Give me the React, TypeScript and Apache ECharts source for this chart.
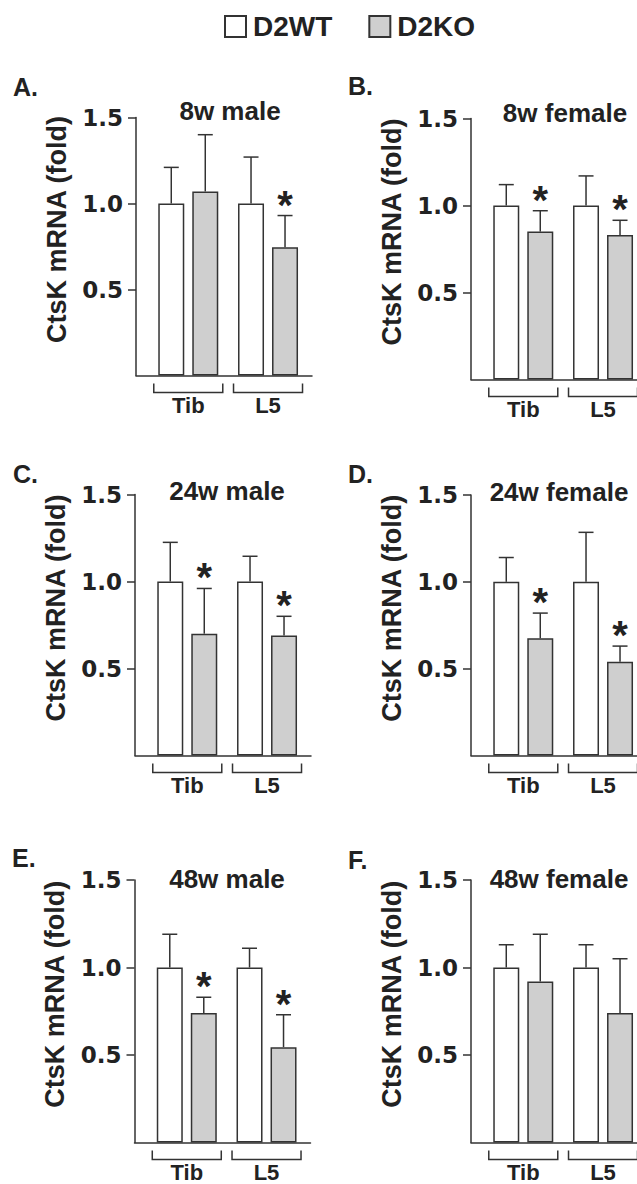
import React, { useEffect, useRef } from "react";
import * as echarts from "echarts";

// ---------- data ----------
const CATEGORIES = ["Tib", "L5"];
const SERIES_NAMES = ["D2WT", "D2KO"];
const Y_TICKS = [0.5, 1.0, 1.5];
const PANEL_LETTERS = ["A.", "B.", "C.", "D.", "E.", "F."];
const PANEL_TITLES = ["8w male", "8w female", "24w male", "24w female", "48w male", "48w female"];
const Y_NAME = "CtsK mRNA (fold)";

// A. 8w male
const wtA = [1.0, 1.0];
const wtErrA = [0.21, 0.27];
const koA = [1.07, 0.745];
const koErrA = [0.33, 0.185];
const sigA = [false, true];
// B. 8w female
const wtB = [1.0, 1.0];
const wtErrB = [0.12, 0.17];
const koB = [0.85, 0.83];
const koErrB = [0.12, 0.085];
const sigB = [true, true];
// C. 24w male
const wtC = [1.0, 1.0];
const wtErrC = [0.225, 0.145];
const koC = [0.7, 0.69];
const koErrC = [0.26, 0.11];
const sigC = [true, true];
// D. 24w female
const wtD = [1.0, 1.0];
const wtErrD = [0.14, 0.285];
const koD = [0.675, 0.54];
const koErrD = [0.145, 0.09];
const sigD = [true, true];
// E. 48w male
const wtE = [1.0, 1.0];
const wtErrE = [0.19, 0.11];
const koE = [0.74, 0.545];
const koErrE = [0.09, 0.185];
const sigE = [true, true];
// F. 48w female
const wtF = [1.0, 1.0];
const wtErrF = [0.13, 0.13];
const koF = [0.92, 0.74];
const koErrF = [0.27, 0.31];
const sigF = [false, false];

const PANELS = [
  { wt: wtA, wtErr: wtErrA, ko: koA, koErr: koErrA, sig: sigA },
  { wt: wtB, wtErr: wtErrB, ko: koB, koErr: koErrB, sig: sigB },
  { wt: wtC, wtErr: wtErrC, ko: koC, koErr: koErrC, sig: sigC },
  { wt: wtD, wtErr: wtErrD, ko: koD, koErr: koErrD, sig: sigD },
  { wt: wtE, wtErr: wtErrE, ko: koE, koErr: koErrE, sig: sigE },
  { wt: wtF, wtErr: wtErrF, ko: koF, koErr: koErrF, sig: sigF },
];

// ---------- layout / style ----------
const LAYOUT = [
  { axisX: 136, top: 117.5, bottom: 375.5, letter: [13, 87], title: [230, 111] },
  { axisX: 471, top: 118.5, bottom: 379.5, letter: [348, 86], title: [565, 113] },
  { axisX: 135, top: 494.5, bottom: 755.5, letter: [13, 474], title: [227, 491] },
  { axisX: 471, top: 495, bottom: 755.5, letter: [348, 474], title: [559, 492] },
  { axisX: 134.5, top: 880, bottom: 1142.5, letter: [12, 858], title: [227, 879] },
  { axisX: 471, top: 880, bottom: 1142.5, letter: [348, 860], title: [559, 879] },
];
const INNER_PAD = 12.4;
const INNER_W = 159.5;
const BASE_W = 176;
const BAR_W = 26;
const BAR_OFFSET = 17;
const TEXT = "#222222";
const EDGE = "#333333";
const WT_FILL = "#ffffff";
const KO_FILL = "#cfcfcf";
const SANS = "Liberation Sans";

function errRenderer(offset: number) {
  return (params: any, api: any) => {
    const i = api.value(0);
    const m = api.value(1);
    const e = api.value(2);
    const s = api.value(3);
    const base = api.coord([i, m]);
    const top = api.coord([i, m + e]);
    const cx = base[0] + offset;
    const children: any[] = [
      { type: "line", shape: { x1: cx, y1: base[1], x2: cx, y2: top[1] }, style: { stroke: EDGE, lineWidth: 1.5 } },
      { type: "line", shape: { x1: cx - 7.5, y1: top[1], x2: cx + 7.5, y2: top[1] }, style: { stroke: EDGE, lineWidth: 1.5 } },
    ];
    if (s) {
      children.push({
        type: "text",
        x: cx,
        y: top[1] - 11,
        style: {
          text: "*",
          fill: TEXT,
          font: `bold 40px "${SANS}"`,
          align: "center",
          verticalAlign: "middle",
          textAlign: "center",
          textVerticalAlign: "middle",
        },
      });
    }
    return { type: "group", children };
  };
}

function bracketRenderer(params: any, api: any) {
  const i = api.value(0);
  const p = api.coord([i, 0]);
  const h = 34.5;
  const y0 = p[1];
  return {
    type: "polyline",
    shape: {
      points: [
        [p[0] - h, y0 + 8],
        [p[0] - h, y0 + 17],
        [p[0] + h, y0 + 17],
        [p[0] + h, y0 + 8],
      ],
    },
    style: { stroke: EDGE, lineWidth: 1.5, fill: "none" },
  };
}

function buildOption() {
  const grid: any[] = [];
  const xAxis: any[] = [];
  const yAxis: any[] = [];
  const series: any[] = [];
  const graphic: any[] = [];

  LAYOUT.forEach((L, p) => {
    const d = PANELS[p];
    const h = L.bottom - L.top;
    const gMain = 2 * p;
    const gBase = 2 * p + 1;
    grid.push({ left: L.axisX + INNER_PAD, top: L.top, width: INNER_W, height: h, outerBoundsMode: "none", containLabel: false });
    grid.push({ left: L.axisX, top: L.top, width: BASE_W, height: h, outerBoundsMode: "none", containLabel: false });

    xAxis.push({
      gridIndex: gMain,
      type: "category",
      data: CATEGORIES,
      axisLine: { show: false },
      axisTick: { show: false },
      splitLine: { show: false },
      axisLabel: { margin: 19, fontSize: 22, lineHeight: 22, fontWeight: "bold", fontFamily: SANS, color: TEXT },
    });
    xAxis.push({
      gridIndex: gBase,
      type: "value",
      min: 0,
      max: 1,
      axisLine: { show: true, onZero: false, lineStyle: { color: EDGE, width: 1.5 } },
      axisTick: { show: false },
      axisLabel: { show: false },
      splitLine: { show: false },
    });
    yAxis.push({
      gridIndex: gMain,
      type: "value",
      min: 0,
      max: 1.5,
      interval: 0.5,
      offset: INNER_PAD,
      axisLine: { show: true, lineStyle: { color: EDGE, width: 1.5 } },
      axisTick: { show: true, inside: false, length: 8, customValues: Y_TICKS, lineStyle: { color: EDGE, width: 1.5 } },
      axisLabel: {
        customValues: Y_TICKS,
        formatter: (v: number) => (v === 0 ? "" : v.toFixed(1)),
        margin: 13,
        fontFamily: "DejaVu Sans",
        fontWeight: "bold",
        fontSize: 23,
        color: TEXT,
      },
      splitLine: { show: false },
      name: Y_NAME,
      nameLocation: "middle",
      nameRotate: 90,
      nameGap: 66,
      nameTextStyle: { fontFamily: SANS, fontWeight: "bold", fontSize: 27, color: TEXT, padding: [0, 0, 0, 34] },
    });
    yAxis.push({ gridIndex: gBase, type: "value", min: 0, max: 1, show: false });

    series.push({
      type: "bar",
      name: SERIES_NAMES[0],
      xAxisIndex: gMain,
      yAxisIndex: gMain,
      data: d.wt,
      barWidth: BAR_W,
      barGap: "30.8%",
      itemStyle: { color: WT_FILL, borderColor: EDGE, borderWidth: 1.5 },
      silent: true,
    });
    series.push({
      type: "bar",
      name: SERIES_NAMES[1],
      xAxisIndex: gMain,
      yAxisIndex: gMain,
      data: d.ko,
      barWidth: BAR_W,
      barGap: "30.8%",
      itemStyle: { color: KO_FILL, borderColor: EDGE, borderWidth: 1.5 },
      silent: true,
    });
    series.push({
      type: "custom",
      name: "wtErr",
      xAxisIndex: gMain,
      yAxisIndex: gMain,
      clip: false,
      silent: true,
      z: 3,
      data: CATEGORIES.map((_, i) => [i, d.wt[i], d.wtErr[i], 0]),
      renderItem: errRenderer(-BAR_OFFSET),
    });
    series.push({
      type: "custom",
      name: "koErr",
      xAxisIndex: gMain,
      yAxisIndex: gMain,
      clip: false,
      silent: true,
      z: 3,
      data: CATEGORIES.map((_, i) => [i, d.ko[i], d.koErr[i], d.sig[i] ? 1 : 0]),
      renderItem: errRenderer(BAR_OFFSET),
    });
    series.push({
      type: "custom",
      name: "bracket",
      xAxisIndex: gMain,
      yAxisIndex: gMain,
      clip: false,
      silent: true,
      data: CATEGORIES.map((_, i) => [i, 0]),
      renderItem: bracketRenderer,
    });

    graphic.push({
      type: "text",
      x: L.letter[0],
      y: L.letter[1],
      style: {
        text: PANEL_LETTERS[p],
        fill: TEXT,
        font: `bold 25px "${SANS}"`,
        verticalAlign: "middle",
        textVerticalAlign: "middle",
      },
    });
    graphic.push({
      type: "text",
      x: L.title[0],
      y: L.title[1],
      style: {
        text: PANEL_TITLES[p],
        fill: TEXT,
        font: `bold 26px "${SANS}"`,
        align: "center",
        textAlign: "center",
        verticalAlign: "middle",
        textVerticalAlign: "middle",
      },
    });
  });

  return {
    animation: false,
    backgroundColor: "#ffffff",
    textStyle: { fontFamily: SANS },
    tooltip: { show: false },
    legend: {
      data: SERIES_NAMES,
      left: 224,
      top: 12.5,
      padding: 0,
      orient: "horizontal",
      icon: "rect",
      itemWidth: 21,
      itemHeight: 21,
      itemGap: 36,
      selectedMode: false,
      textStyle: { fontSize: 28, fontWeight: "bold", fontFamily: SANS, color: TEXT, padding: [0, 0, 0, 2] },
    },
    grid,
    xAxis,
    yAxis,
    series,
    graphic,
  };
}

export default function App() {
  const ref = useRef<HTMLDivElement>(null);
  useEffect(() => {
    if (!ref.current) return;
    const chart = echarts.init(ref.current, null, { renderer: "svg" });
    chart.setOption(buildOption() as any);
    return () => chart.dispose();
  }, []);
  return (
    <div
      ref={ref}
      style={{ position: "absolute", left: 0, top: 0, width: 637, height: 1184, background: "#fff" }}
    />
  );
}
